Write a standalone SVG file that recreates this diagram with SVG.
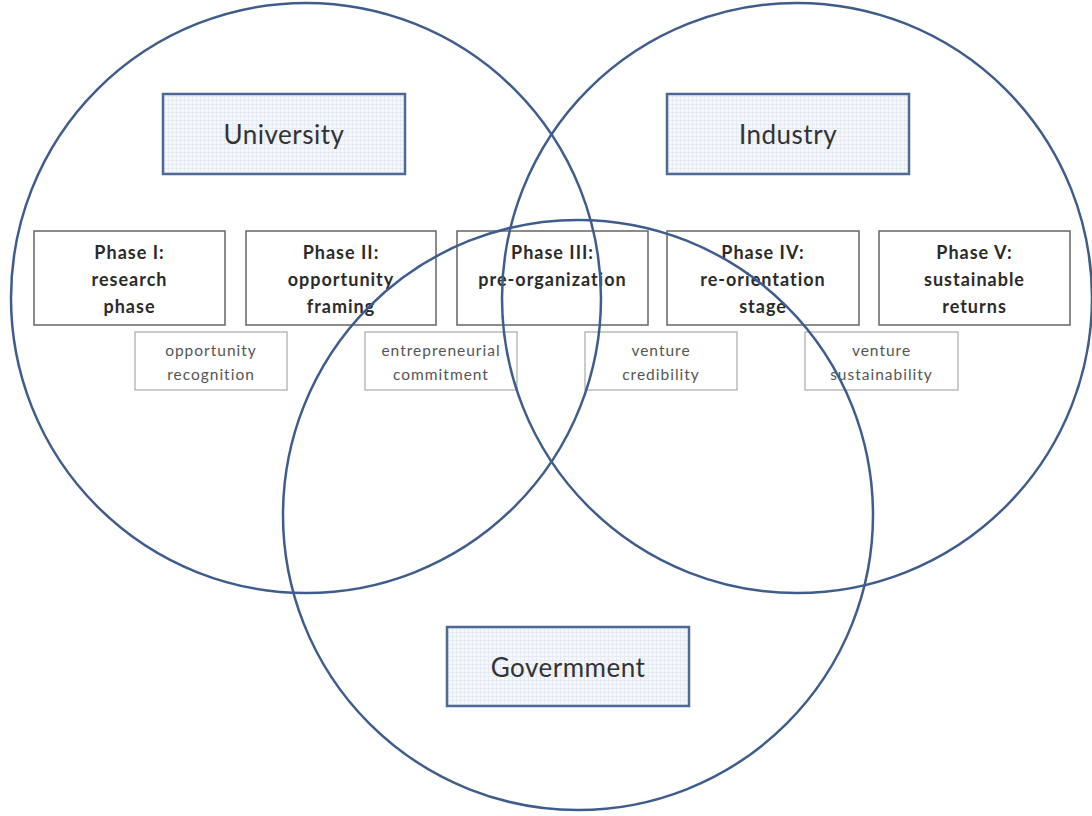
<svg xmlns="http://www.w3.org/2000/svg" width="1092" height="816" viewBox="0 0 1092 816">
<defs>
<pattern id="grid" width="4" height="4" patternUnits="userSpaceOnUse">
<rect width="4" height="4" fill="#f5f7fb"/>
<path d="M0 0.5H4M0.5 0V4" stroke="#e2e8f2" stroke-width="0.8"/>
</pattern>
<style>
.main{fill:url(#grid);stroke:#4d6a94;stroke-width:2.5}
.mt{font-family:Lato,"Open Sans",sans-serif;font-size:26px;letter-spacing:0.5px;fill:#333;text-anchor:middle}
.ph{fill:#fff;stroke:#666;stroke-width:1.5}
.pt{font-family:Lato,"Open Sans",sans-serif;font-size:18px;letter-spacing:1px;font-weight:bold;fill:#2b2b2b;text-anchor:middle}
.sb{fill:#fff;stroke:#aaa;stroke-width:1.2}
.st{font-family:Lato,"Open Sans",sans-serif;font-size:15.5px;letter-spacing:1px;fill:#555;text-anchor:middle}
.circ{fill:none;stroke:#3f5d8c;stroke-width:2.5}
</style>
</defs>
<rect width="1092" height="816" fill="#fff"/>
<g id="university"><rect class="main" x="163" y="94" width="242" height="80"/><text class="mt" x="284" y="144">University</text></g>
<g id="industry"><rect class="main" x="667" y="94" width="242" height="80"/><text class="mt" x="788" y="144">Industry</text></g>
<g id="government"><rect class="main" x="447" y="627" width="242" height="79"/><text class="mt" x="568" y="677">Govermment</text></g>
<g id="phase1"><rect class="ph" x="34" y="231" width="191" height="94"/><text class="pt" x="129.5" y="259">Phase I:</text><text class="pt" x="129.5" y="286">research</text><text class="pt" x="129.5" y="313">phase</text></g>
<g id="phase2"><rect class="ph" x="246" y="231" width="190" height="94"/><text class="pt" x="341" y="259">Phase II:</text><text class="pt" x="341" y="286">opportunity</text><text class="pt" x="341" y="313">framing</text></g>
<g id="phase3"><rect class="ph" x="457" y="231" width="191" height="94"/><text class="pt" x="552.5" y="259">Phase III:</text><text class="pt" x="552.5" y="286">pre-organization</text></g>
<g id="phase4"><rect class="ph" x="667" y="231" width="192" height="94"/><text class="pt" x="763" y="259">Phase IV:</text><text class="pt" x="763" y="286">re-orientation</text><text class="pt" x="763" y="313">stage</text></g>
<g id="phase5"><rect class="ph" x="879" y="231" width="191" height="94"/><text class="pt" x="974.5" y="259">Phase V:</text><text class="pt" x="974.5" y="286">sustainable</text><text class="pt" x="974.5" y="313">returns</text></g>
<g id="sub1"><rect class="sb" x="135" y="332" width="152" height="58"/><text class="st" x="211" y="356">opportunity</text><text class="st" x="211" y="380">recognition</text></g>
<g id="sub2"><rect class="sb" x="365" y="332" width="152" height="58"/><text class="st" x="441" y="356">entrepreneurial</text><text class="st" x="441" y="380">commitment</text></g>
<g id="sub3"><rect class="sb" x="585" y="332" width="152" height="58"/><text class="st" x="661" y="356">venture</text><text class="st" x="661" y="380">credibility</text></g>
<g id="sub4"><rect class="sb" x="805" y="332" width="153" height="58"/><text class="st" x="881.5" y="356">venture</text><text class="st" x="881.5" y="380">sustainability</text></g>
<g id="connectors">
<circle class="circ" cx="306" cy="298" r="295"/>
<circle class="circ" cx="797" cy="298" r="295"/>
<circle class="circ" cx="578" cy="515" r="295"/>
</g>
</svg>
